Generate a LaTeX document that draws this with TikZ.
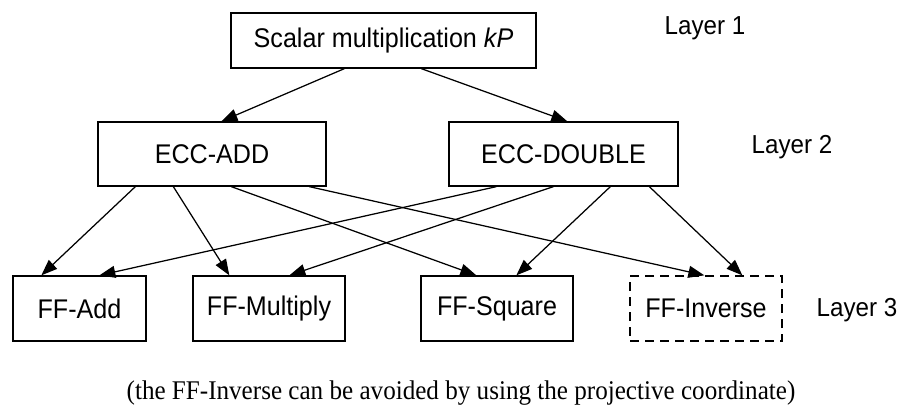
\documentclass[tikz,border=0pt]{standalone}
\usepackage{fontspec}
\setmainfont[FakeStretch=0.93]{Liberation Sans}
\newfontfamily\capfont[FakeStretch=0.93]{Liberation Serif}
\usetikzlibrary{arrows.meta}
\begin{document}
\begin{tikzpicture}[x=1pt,y=-1pt,
  box/.style={draw, line width=1.3pt, inner sep=0pt,
    font=\fontsize{27}{32}\selectfont},
  arr/.style={-{Triangle[length=16pt,width=12pt]}, line width=1.25pt},
  lbl/.style={inner sep=0pt, font=\fontsize{26}{30}\selectfont}]
\useasboundingbox (0,0) rectangle (904,406);

% layer 1
\node[box, minimum width=305pt, minimum height=55pt] (top) at (383.5,40.5) {Scalar multiplication \textit{kP}};
\node[lbl] (l1) at (705,28) {Layer 1};

% layer 2
\node[box, minimum width=228pt, minimum height=64pt] (add) at (212,154) {ECC-ADD};
\node[box, minimum width=229pt, minimum height=64pt] (dbl) at (563.5,154) {ECC-DOUBLE};
\node[lbl] (l2) at (792,147) {Layer 2};

% layer 3
\node[box, minimum width=133pt, minimum height=65pt] (ffadd) at (79.5,308.5) {FF-Add};
\node[box, minimum width=152pt, minimum height=65pt] (ffmul) at (269,308.5) {FF-Multiply};
\node[box, minimum width=152pt, minimum height=65pt] (ffsq) at (497,308.5) {FF-Square};
\node[box, minimum width=152pt, minimum height=65pt, dash pattern=on 9pt off 6pt] (ffinv) at (706,308.5) {FF-Inverse};
\node[lbl] (l3) at (857,310) {Layer 3};

% caption, set on its baseline
\node[inner sep=0pt, anchor=base, font=\capfont\fontsize{27}{32}\selectfont] (cap) at (461,399.5)
  {(the FF-Inverse can be avoided by using the projective coordinate)};

% layer 1 -> layer 2
\draw[arr] ([xshift=114pt]top.south west) -- ([xshift=124pt]add.north west);
\draw[arr] ([xshift=191pt]top.south west) -- ([xshift=119pt]dbl.north west);

% ECC-ADD -> field operations
\draw[arr] ([xshift=38pt]add.south west) -- ([xshift=29pt]ffadd.north west);
\draw[arr] ([xshift=76pt]add.south west) -- ([xshift=37pt]ffmul.north west);
\draw[arr] ([xshift=134pt]add.south west) -- ([xshift=56pt]ffsq.north west);
\draw[arr] ([xshift=212pt]add.south west) -- ([xshift=75pt]ffinv.north west);

% ECC-DOUBLE -> field operations
\draw[arr] ([xshift=48pt]dbl.south west) -- ([xshift=87pt]ffadd.north west);
\draw[arr] ([xshift=105pt]dbl.south west) -- ([xshift=97pt]ffmul.north west);
\draw[arr] ([xshift=162pt]dbl.south west) -- ([xshift=96pt]ffsq.north west);
\draw[arr] ([xshift=201pt]dbl.south west) -- ([xshift=113pt]ffinv.north west);
\end{tikzpicture}
\end{document}
